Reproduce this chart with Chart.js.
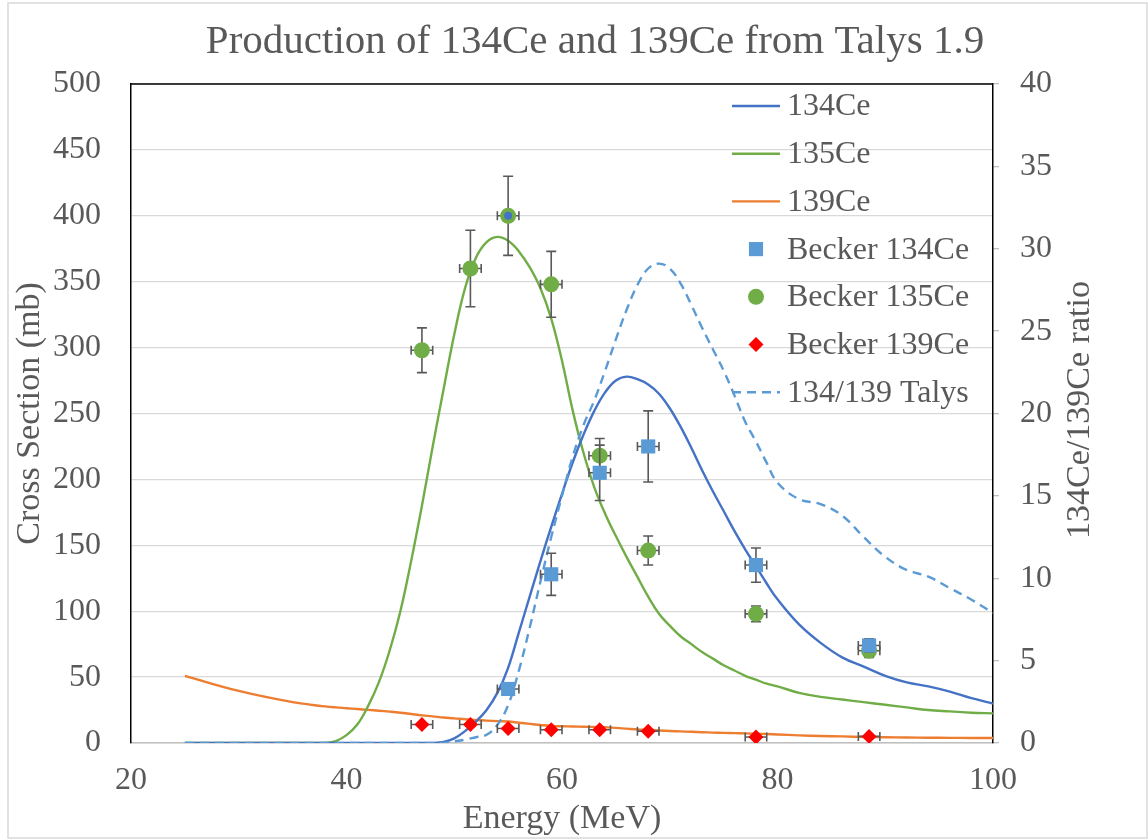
<!DOCTYPE html>
<html>
<head>
<meta charset="utf-8">
<script src="https://cdn.jsdelivr.net/npm/chart.js@4.4.0/dist/chart.umd.min.js"></script>
<style>
  html, body { margin: 0; padding: 0; background: #fff; }
  canvas { display: block; }
</style>
</head>
<body>
<canvas id="chart" width="1148" height="839"></canvas>
<script>
// Talys 1.9 excitation functions on a shared energy grid (MeV)
const energy = [25, 30, 35, 38, 39, 40, 41, 42, 43, 44, 45, 46, 47, 48, 49, 50, 51, 52, 53, 54,
  55, 56, 57, 58, 59, 60, 61, 62, 63, 64, 65, 66, 67, 68, 69, 70, 71, 72, 73, 74,
  75, 76, 77, 78, 79, 80, 82, 84, 86, 88, 90, 92, 94, 96, 98, 100];
const talys134 = [0, 0, 0, 0, 0, 0, 0, 0, 0, 0, 0, 0, 0, 0, 0.8, 3.5, 9, 16, 25, 38,
  57, 84, 111, 138, 164, 189, 213, 234, 252, 266, 275, 278, 276, 272, 265, 254, 240, 224, 207, 191,
  176, 161, 147, 134, 121, 109, 90, 76, 65, 58, 51, 46, 43, 39, 34, 30];
const talys135 = [0, 0, 0, 0, 1.5, 6, 14, 28, 46, 70, 100, 138, 180, 225, 268, 310, 345, 368, 380, 384,
  381, 373, 361, 345, 322, 290, 252, 220, 194, 174, 157, 141, 126, 111, 98, 89, 81, 75, 69, 64,
  59, 55, 51, 48, 45, 43, 38, 35, 33, 31, 29, 27, 25, 24, 23, 22.5];
const talys139 = [51, 39.5, 31, 27.8, 27, 26.4, 25.8, 25.1, 24.5, 23.8, 23, 22, 21, 20.2, 19.3, 18.7, 18, 17.5, 17, 16.6,
  16.3, 15.4, 14.5, 13.7, 13, 12.7, 12.5, 12.3, 12.2, 11.9, 11.5, 10.9, 10.3, 9.9, 9.5, 9.1, 8.8, 8.5, 8.2, 7.9,
  7.7, 7.5, 7.3, 7, 6.8, 6.5, 5.8, 5.3, 5, 4.6, 4.4, 4.2, 4, 3.9, 3.85, 3.8];
const ratio134to139 = [0, 0, 0, 0, 0, 0, 0, 0, 0, 0, 0, 0, 0, 0, 0, 0.1, 0.2, 0.35, 0.5, 1.1,
  2.3, 4.4, 7, 9.8, 12.5, 15, 17.4, 19.3, 20.8, 22.6, 24.5, 26.3, 27.8, 28.8, 29.1, 28.8, 27.9, 26.6, 25.2, 23.9,
  22.6, 21.1, 19.5, 18.3, 17, 15.8, 14.8, 14.5, 13.8, 12.5, 11.3, 10.5, 10.1, 9.4, 8.7, 7.9];

// Becker measurements (mb) with uncertainties; energy uncertainty is +-1 MeV
const becker134E = [55, 59, 63.5, 68, 78, 88.5];
const becker134 = [41, 128, 205, 225, 135, 74];
const becker134Err = [3, 16, 21, 27, 13, 5];
const becker135E = [47, 51.5, 55, 59, 63.5, 68, 78, 88.5];
const becker135 = [298, 360, 400, 348, 218, 146, 98, 70];
const becker135Err = [17, 29, 30, 25, 13, 11, 6, 5];
const becker139E = [47, 51.5, 55, 59, 63.5, 68, 78, 88.5];
const becker139 = [14, 14, 11, 10, 10, 9, 4.5, 5];
const becker139Err = [1, 1, 1, 1, 1, 1, 1, 1];
const extra134E = [55];
const extra134 = [400];
const energyErr = 1;

const xTicks = [20, 40, 60, 80, 100];
const csTicks = [0, 50, 100, 150, 200, 250, 300, 350, 400, 450, 500];
const ratioTicks = [0, 5, 10, 15, 20, 25, 30, 35, 40];

const SERIF = '"Liberation Serif", "Times New Roman", serif';
const GREY = '#595959';

const pts = (xs, ys) => xs.map((x, i) => ({ x, y: ys[i] }));
const setTicks = list => scale => { scale.ticks = list.map(v => ({ value: v })); };

const curve = (label, ys, color, extra) => Object.assign({
  label, data: pts(energy, ys), showLine: true, borderColor: color, backgroundColor: color,
  borderWidth: 2.4, pointRadius: 0, tension: 0.4, order: 5
}, extra);

const marks = (label, xs, ys, err, color, style, radius, order) => ({
  label, data: pts(xs, ys), yErr: err, showLine: false, pointStyle: style, pointRadius: radius,
  pointHoverRadius: radius, backgroundColor: color, borderColor: color, pointBorderWidth: 0, order
});

// error bars go underneath each marker series
const errorBars = {
  id: 'errorBars',
  beforeDatasetDraw(chart, args) {
    const ds = chart.data.datasets[args.index];
    if (!ds.yErr) return;
    const { ctx } = chart;
    const xs = chart.scales.x, ys = chart.scales.y;
    ctx.save();
    ctx.strokeStyle = GREY;
    ctx.lineWidth = 1.6;
    ds.data.forEach((p, i) => {
      const px = xs.getPixelForValue(p.x), py = ys.getPixelForValue(p.y);
      const x0 = xs.getPixelForValue(p.x - energyErr), x1 = xs.getPixelForValue(p.x + energyErr);
      const y0 = ys.getPixelForValue(p.y + ds.yErr[i]), y1 = ys.getPixelForValue(p.y - ds.yErr[i]);
      ctx.beginPath();
      ctx.moveTo(x0, py); ctx.lineTo(x1, py);
      ctx.moveTo(x0, py - 4.5); ctx.lineTo(x0, py + 4.5);
      ctx.moveTo(x1, py - 4.5); ctx.lineTo(x1, py + 4.5);
      ctx.moveTo(px, y0); ctx.lineTo(px, y1);
      ctx.moveTo(px - 5, y0); ctx.lineTo(px + 5, y0);
      ctx.moveTo(px - 5, y1); ctx.lineTo(px + 5, y1);
      ctx.stroke();
    });
    ctx.restore();
  }
};

function drawMarker(ctx, style, x, y, r) {
  ctx.beginPath();
  if (style === 'circle') {
    ctx.arc(x, y, r, 0, Math.PI * 2);
  } else if (style === 'rect') {
    const h = r * Math.SQRT1_2;
    ctx.rect(x - h, y - h, 2 * h, 2 * h);
  } else {
    ctx.moveTo(x - r, y); ctx.lineTo(x, y - r); ctx.lineTo(x + r, y); ctx.lineTo(x, y + r);
    ctx.closePath();
  }
  ctx.fill();
}

// title, frame, right-hand axis title and the legend inside the plot
const decorations = {
  id: 'decorations',
  afterDatasetsDraw(chart) {
    const { ctx, chartArea: a } = chart;
    ctx.save();
    ctx.strokeStyle = '#000';
    ctx.lineWidth = 1.5;
    ctx.beginPath();
    ctx.moveTo(a.left, a.top); ctx.lineTo(a.right, a.top);
    ctx.stroke();

    ctx.font = '32px ' + SERIF;
    ctx.fillStyle = GREY;
    ctx.textBaseline = 'middle';
    ctx.textAlign = 'left';
    let row = 0;
    chart.data.datasets.forEach(ds => {
      if (ds.noLegend) return;
      const y = 106 + row * 47.7;
      ctx.save();
      if (ds.showLine) {
        ctx.strokeStyle = ds.borderColor;
        ctx.lineWidth = ds.borderWidth;
        ctx.setLineDash(ds.borderDash || []);
        ctx.beginPath();
        ctx.moveTo(732, y); ctx.lineTo(780, y);
        ctx.stroke();
      } else {
        ctx.fillStyle = ds.backgroundColor;
        drawMarker(ctx, ds.pointStyle, 756, y, ds.pointRadius);
      }
      ctx.restore();
      ctx.fillText(ds.label, 787, y + 1);
      row++;
    });
    ctx.restore();
  },
  afterDraw(chart) {
    const { ctx } = chart;
    ctx.save();
    ctx.strokeStyle = '#D9D9D9';
    ctx.lineWidth = 1.5;
    ctx.strokeRect(8, 3, 1139, 835);

    ctx.fillStyle = GREY;
    ctx.textAlign = 'center';
    ctx.textBaseline = 'middle';
    ctx.font = '41px ' + SERIF;
    ctx.fillText('Production of 134Ce and 139Ce from Talys 1.9', 595, 42);

    ctx.font = '34px ' + SERIF;
    ctx.translate(1080, 410);
    ctx.rotate(-Math.PI / 2);
    ctx.fillText('134Ce/139Ce ratio', 0, 0);
    ctx.restore();
  }
};

new Chart(document.getElementById('chart'), {
  type: 'scatter',
  data: {
    datasets: [
      curve('134Ce', talys134, '#4472C4'),
      curve('135Ce', talys135, '#70AD47'),
      curve('139Ce', talys139, '#ED7D31'),
      marks('Becker 134Ce', becker134E, becker134, becker134Err, '#5B9BD5', 'rect', 10, 2),
      marks('Becker 135Ce', becker135E, becker135, becker135Err, '#70AD47', 'circle', 8, 3),
      marks('Becker 139Ce', becker139E, becker139, becker139Err, '#FF0000', 'rectRot', 7.5, 1),
      curve('134/139 Talys', ratio134to139, '#5B9BD5', { yAxisID: 'y2', borderDash: [9, 6], order: 4 }),
      Object.assign(marks('', extra134E, extra134, null, '#4472C4', 'circle', 4, 0), { noLegend: true })
    ]
  },
  options: {
    responsive: false,
    devicePixelRatio: 1,
    animation: false,
    events: [],
    layout: { padding: { left: 0, right: 0, top: 84, bottom: 0 } },
    plugins: { legend: { display: false }, title: { display: false }, tooltip: { enabled: false } },
    scales: {
      x: {
        type: 'linear', min: 20, max: 100,
        afterBuildTicks: setTicks(xTicks),
        afterFit: s => { s.height = 96; },
        grid: { display: false, drawTicks: false },
        border: { color: '#BFBFBF', width: 1.5 },
        ticks: { color: GREY, font: { family: SERIF, size: 32 }, padding: 18, maxRotation: 0 },
        title: { display: true, text: 'Energy (MeV)', color: GREY, font: { family: SERIF, size: 34 }, padding: { top: 0, bottom: 0 } }
      },
      y: {
        type: 'linear', position: 'left', min: 0, max: 500,
        afterBuildTicks: setTicks(csTicks),
        afterFit: s => { s.width = 131; },
        grid: { color: '#D9D9D9', lineWidth: 1.3, drawTicks: false },
        border: { color: '#000', width: 1.5 },
        ticks: { color: GREY, font: { family: SERIF, size: 32 }, padding: 30 },
        title: { display: true, text: 'Cross Section (mb)', color: GREY, font: { family: SERIF, size: 34 }, padding: { top: 10, bottom: 0 } }
      },
      y2: {
        type: 'linear', position: 'right', min: 0, max: 40,
        afterBuildTicks: setTicks(ratioTicks),
        afterFit: s => { s.width = 155; },
        grid: { drawOnChartArea: false, drawTicks: true, tickLength: 6, color: '#BFBFBF', lineWidth: 1.3 },
        border: { color: '#000', width: 1.5, dash: [3, 2] },
        ticks: { color: GREY, font: { family: SERIF, size: 32 }, padding: 21 }
      }
    }
  },
  plugins: [errorBars, decorations]
});
</script>
</body>
</html>
